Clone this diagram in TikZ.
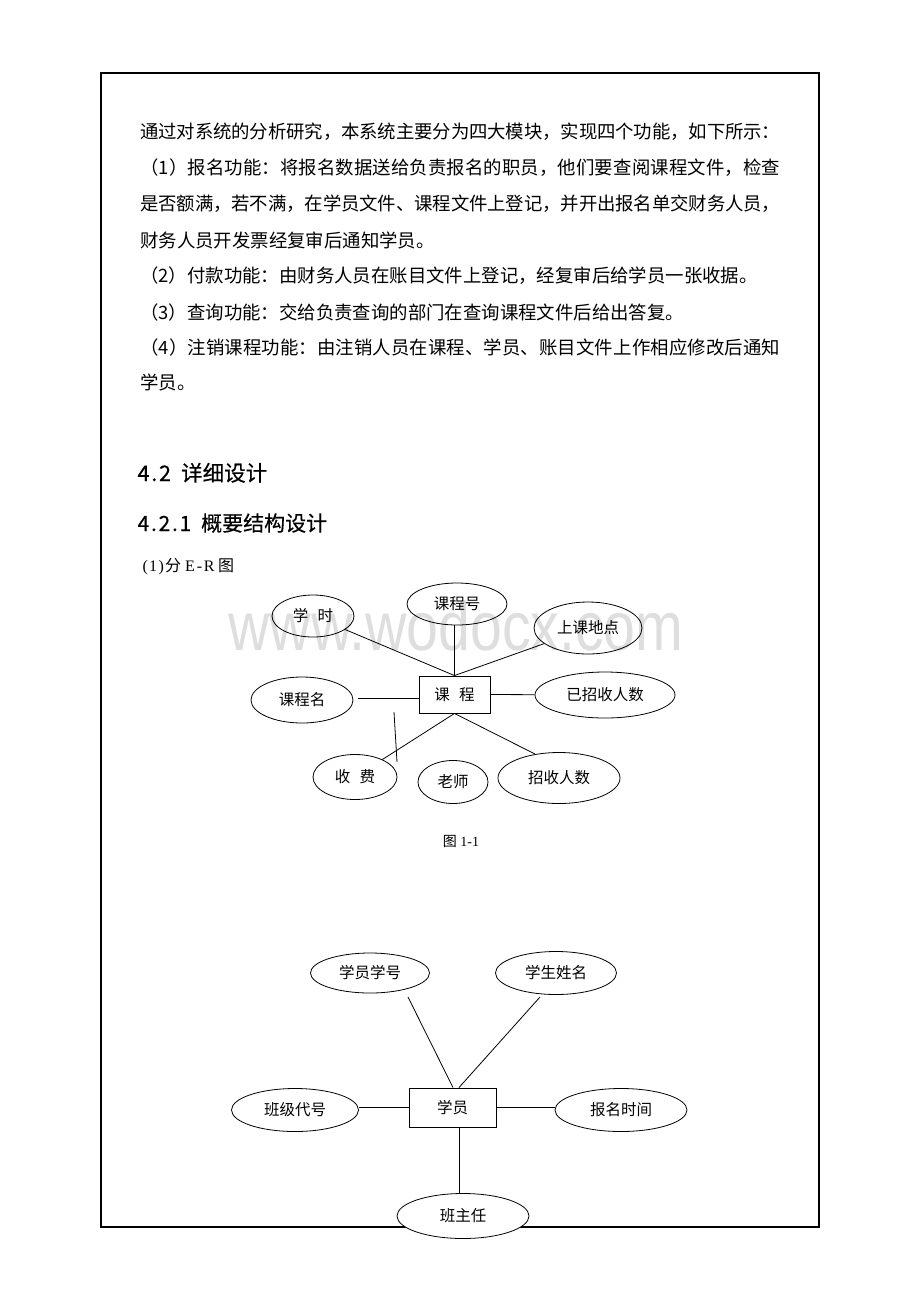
\documentclass[tikz,border=0pt]{standalone}
\usepackage{fontspec}
\setmainfont{Liberation Serif}
\newfontfamily\cjk{Noto Sans CJK SC}
\newfontfamily\cjkh[FakeBold=0.4]{Noto Sans CJK SC}
\newfontfamily\wmfont{Liberation Sans}
\usetikzlibrary{shapes.geometric}
\newcommand\erlbl{\cjk\fontsize{15.5}{18}\selectfont}
\newcommand\bodyfont{\cjk\fontsize{18.4}{18}\selectfont}
\def\myspr#1{\ifx#1\relax\else#1\hskip 0pt plus 1fil minus 1fil\expandafter\myspr\fi}
\newcommand\jline[1]{\makebox[640pt][s]{\myspr#1\relax}}
\def\myhw#1{\ifx#1\relax\else\makebox[0.5em]{#1}\expandafter\myhw\fi}
\def\myhwb#1{\ifx#1\relax\else\makebox[0.6em]{#1}\expandafter\myhwb\fi}
\begin{document}
\begin{tikzpicture}[x=1pt,y=-1pt,
  attr/.style={ellipse,draw,line width=0.8pt,fill=white,inner sep=0pt,font=\erlbl},
  ent/.style={rectangle,draw,line width=0.9pt,fill=white,inner sep=0pt,font=\erlbl},
  conn/.style={line width=0.8pt},
  body/.style={anchor=base west,inner sep=0pt,font=\bodyfont},
  head/.style={anchor=base west,inner sep=0pt}]
\useasboundingbox (0,0) rectangle (920,1302);
\fill[white] (0,0) rectangle (920,1302);
\draw[line width=1.2pt] (101,73) rectangle (819,1227);

% body text
\node[body] (t1) at (140,138) {\jline{通过对系统的分析研究，本系统主要分为四大模块，实现四个功能，如下所示：}};
\node[body] (t2) at (140,174) {\jline{（1）报名功能：将报名数据送给负责报名的职员，他们要查阅课程文件，检查}};
\node[body] (t3) at (140,210) {\jline{是否额满，若不满，在学员文件、课程文件上登记，并开出报名单交财务人员，}};
\node[body] (t4) at (140,247) {财务人员开发票经复审后通知学员。};
\node[body] (t5) at (140,282) {（2）付款功能：由财务人员在账目文件上登记，经复审后给学员一张收据。};
\node[body] (t6) at (140,319) {（3）查询功能：交给负责查询的部门在查询课程文件后给出答复。};
\node[body] (t7) at (140,354) {\jline{（4）注销课程功能：由注销人员在课程、学员、账目文件上作相应修改后通知}};
\node[body] (t8) at (140,389) {学员。};

% headings
\node[head,font=\cjkh\fontsize{21.5}{21.5}\selectfont] (h1) at (138,481) {\myhw 4.2\relax\makebox[0.5em]{}详细设计};
\node[head,font=\cjkh\fontsize{21}{21}\selectfont] (h2) at (138,531) {\myhw 4.2.1\relax\makebox[0.5em]{}概要结构设计};
\node[head,font=\fontsize{16}{16}\selectfont] (h3) at (141,571) {\myhw(1)\relax{\cjk 分}\hspace{4pt}\myhwb E-R\relax\hspace{4pt}{\cjk 图}};

% diagram 1
\node[attr,minimum width=82pt,minimum height=42pt] (xs) at (313,616) {学\hspace{0.6em}时};
\node[attr,minimum width=100pt,minimum height=42pt] (kch) at (457,604) {课程号};
\node[attr,minimum width=108pt,minimum height=52pt] (skd) at (588,628) {上课地点};
\node[ent,minimum width=71pt,minimum height=37pt] (kc) at (454.5,694.5) {课\hspace{0.6em}程};
\node[attr,minimum width=102pt,minimum height=46pt] (kcm) at (302,700) {课程名};
\node[attr,minimum width=140pt,minimum height=46pt] (yzs) at (605,695) {已招收人数};
\node[attr,minimum width=84pt,minimum height=45pt] (sf) at (355,777) {收\hspace{0.6em}费};
\node[attr,minimum width=70pt,minimum height=43pt] (ls) at (453,782) {老师};
\node[attr,minimum width=122pt,minimum height=51pt] (zs) at (559,778) {招收人数};

\draw[conn] (xs) -- (kc.north);
\draw[conn] (kch.south -| kc.north) -- (kc.north);
\draw[conn] (skd) -- (kc.north);
\coordinate (kcmL) at (358,698);
\draw[conn] (kcmL) -- (kcmL -| kc.west);
\draw[conn] (kc.east) -- (yzs);
\draw[conn] (kc.south) -- (sf);
\coordinate (zsE) at (535,754);
\draw[conn] (kc.south) -- (zsE);
\coordinate (strayA) at (394,712);
\coordinate (strayB) at (397,762);
\draw[conn] (strayA) -- (strayB);

\node[anchor=center,inner sep=0pt,font=\fontsize{14}{14}\selectfont] (cap) at (461,841) {{\cjk 图} 1-1};

% diagram 2
\node[attr,minimum width=119pt,minimum height=40pt] (xh) at (370,973) {学员学号};
\node[attr,minimum width=121pt,minimum height=43pt] (xm) at (556,973) {学生姓名};
\node[ent,minimum width=87pt,minimum height=39pt] (xy) at (452.5,1107.5) {学员};
\node[attr,minimum width=127pt,minimum height=43pt] (bj) at (295,1110) {班级代号};
\node[attr,minimum width=132pt,minimum height=43pt] (bm) at (621,1110) {报名时间};
\node[attr,minimum width=132pt,minimum height=45pt] (bzr) at (463,1216) {班主任};

\coordinate (xhE) at (408,997);
\coordinate (xmE) at (540,997);
\draw[conn] (xhE) -- ([xshift=0.5pt]xy.north);
\draw[conn] (xmE) -- ([xshift=6.5pt]xy.north);
\draw[conn] (xy.west) -- (xy.west -| bj.east);
\draw[conn] (xy.east) -- (xy.east -| bm.west);
\draw[conn] ([xshift=6.5pt]xy.south) -- ([xshift=6.5pt]xy.south |- bzr.north);

% watermark
\node[anchor=base,inner sep=0pt,text=black,opacity=0.13,font=\wmfont\fontsize{69}{69}\selectfont] (wm) at (456,650) {\scalebox{0.83}[1]{www.wodocx.com}};
\end{tikzpicture}
\end{document}
